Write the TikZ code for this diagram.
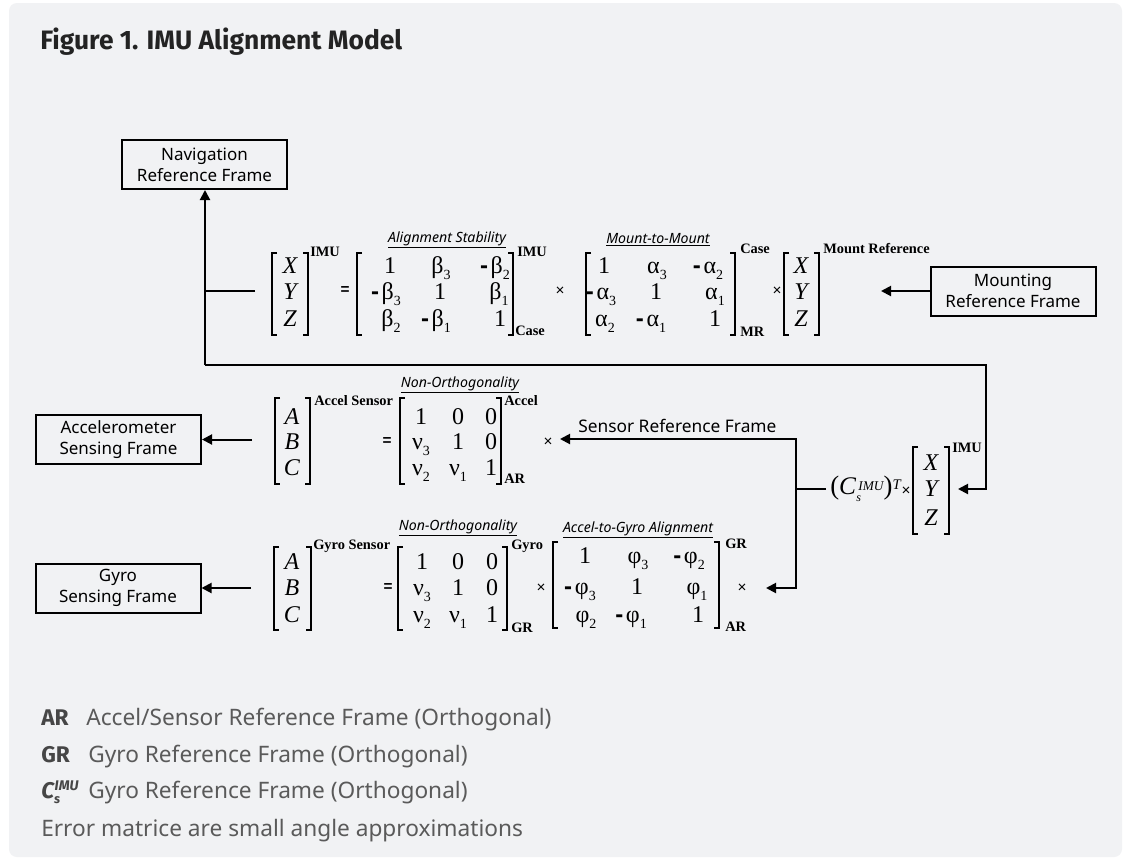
\documentclass[tikz,border=0pt]{standalone}
\usepackage{fontspec}
\usepackage{graphicx}
\setmainfont{Noto Sans}
\newfontfamily\tms{Liberation Serif}
\newfontfamily\ttl{Fira Sans}
\newfontfamily\lsans{Liberation Sans}
\usetikzlibrary{arrows.meta}
\definecolor{panel}{HTML}{F1F2F4}
\definecolor{legtxt}{HTML}{5A5A5A}
\definecolor{legbold}{HTML}{464646}
\definecolor{ttlcol}{HTML}{232323}
\newcommand{\sbs}[1]{\raisebox{-4.5pt}{\fontsize{10.5}{10.5}\selectfont #1}}
\newcommand{\mneg}{{\lsans\bfseries -}\kern2pt}
\newcommand{\Lbr}[3]{\draw[brk] (#1+5,#2) -- (#1,#2) -- (#1,#3) -- (#1+5,#3);}
\newcommand{\Rbr}[3]{\draw[brk] (#1-5,#2) -- (#1,#2) -- (#1,#3) -- (#1-5,#3);}
\begin{document}
\begin{tikzpicture}[x=0.75pt,y=-0.75pt,
  ent/.style={anchor=base, inner sep=0pt, font=\tms\fontsize{18}{18}\selectfont},
  vent/.style={anchor=base, inner sep=0pt, font=\tms\itshape\fontsize{18}{18}\selectfont},
  lab/.style={anchor=west, inner sep=0pt, font=\tms\bfseries\fontsize{10.8}{10.8}\selectfont},
  mtitle/.style={anchor=base, inner sep=0pt, font=\fontsize{10.6}{10.6}\selectfont\itshape},
  op/.style={inner sep=0pt, font=\lsans\fontsize{11.5}{11.5}\selectfont},
  eqop/.style={inner sep=0pt, font=\lsans\bfseries\fontsize{11.5}{11.5}\selectfont},
  box/.style={draw, line width=1.5pt, minimum width=123.75pt, minimum height=36.75pt, align=center, font=\fontsize{12.75}{15.75}\selectfont, inner sep=0pt},
  conn/.style={line width=1.5pt},
  arr/.style={conn, -{Triangle[length=7.5pt,width=7.5pt]}},
  brk/.style={line width=1.5pt},
  leg/.style={anchor=base west, inner sep=0pt, text=legtxt, font=\fontsize{17}{17}\selectfont},
  legb/.style={anchor=base west, inner sep=0pt, text=legbold, font=\ttl\bfseries\fontsize{17}{17}\selectfont}
]
\useasboundingbox (0,0) rectangle (1129,858);
\fill[white] (0,0) rectangle (1129,858);
\fill[panel, rounded corners=6pt] (9,3) rectangle (1122,857);

% title
\node[anchor=base west, inner sep=0pt, text=ttlcol] (title) at (40,49.5)
  {\resizebox{271.5pt}{16.2pt}{\ttl\bfseries Figure 1. IMU Alignment Model}};

% boxes
\node[box] (nav) at (204.5,164.5) {Navigation\\Reference Frame};
\node[box] (mnt) at (1013,291) {Mounting\\Reference Frame};
\node[box] (acc) at (118.5,439.5) {Accelerometer\\Sensing Frame};
\node[box] (gyr) at (118,588) {Gyro\\Sensing Frame};

% ---------- top equation ----------
\Lbr{272}{253}{335}\Rbr{308}{253}{335}
\node[vent] (tx) at (290,273) {X};
\node[vent] (ty) at (290,299) {Y};
\node[vent] (tz) at (290,326) {Z};
\node[lab] (tsup) at (310,252) {IMU};
\node[eqop] (teq) at (345,291) {=};
\Lbr{357}{253}{335}\Rbr{513}{253}{335}
\node[mtitle] (tb) at (447,242) {\underline{Alignment Stability}};
\node[ent] (b11) at (390,273) {1};
\node[ent] (b12) at (441,273) {β\sbs{3}};
\node[ent] (b13) at (495,273) {\mneg β\sbs{2}};
\node[ent] (b21) at (386,299) {\mneg β\sbs{3}};
\node[ent] (b22) at (440,299) {1};
\node[ent] (b23) at (499,299) {β\sbs{1}};
\node[ent] (b31) at (391,326) {β\sbs{2}};
\node[ent] (b32) at (436,326) {\mneg β\sbs{1}};
\node[ent] (b33) at (500,326) {1};
\node[lab] (bsup) at (517,252) {IMU};
\node[lab] (bsub) at (515,331) {Case};
\node[op] (tm1) at (560,291) {×};
\Lbr{586}{253}{335}\Rbr{735}{253}{335}
\node[mtitle] (ta) at (658,243) {\underline{Mount-to-Mount}};
\node[ent] (a11) at (604,273) {1};
\node[ent] (a12) at (657,273) {α\sbs{3}};
\node[ent] (a13) at (708,273) {\mneg α\sbs{2}};
\node[ent] (a21) at (601,299) {\mneg α\sbs{3}};
\node[ent] (a22) at (656,299) {1};
\node[ent] (a23) at (715,299) {α\sbs{1}};
\node[ent] (a31) at (605,326) {α\sbs{2}};
\node[ent] (a32) at (651,326) {\mneg α\sbs{1}};
\node[ent] (a33) at (715,326) {1};
\node[lab] (asup) at (740,249) {Case};
\node[lab] (asub) at (740,332) {MR};
\node[op] (tm2) at (777,291) {×};
\Lbr{784}{253}{335}\Rbr{819}{253}{335}
\node[vent] (mx) at (801,273) {X};
\node[vent] (my) at (801,299) {Y};
\node[vent] (mz) at (801,326) {Z};
\node[lab] (msup) at (823,249) {Mount Reference};
\coordinate (mtip) at (881,291);

% ---------- accel equation ----------
\Lbr{275}{398}{484}\Rbr{310}{398}{484}
\node[vent] (aa) at (292,424.5) {A};
\node[vent] (ab) at (292,449.5) {B};
\node[vent] (ac) at (292,475.5) {C};
\node[lab] (asen) at (314,401) {Accel Sensor};
\node[eqop] (aeq) at (387,442) {=};
\Lbr{400}{398}{484}\Rbr{501}{398}{484}
\node[mtitle] (an) at (460,387) {\underline{Non-Orthogonality}};
\node[ent] (n11) at (421,424.5) {1};
\node[ent] (n12) at (458,424.5) {0};
\node[ent] (n13) at (491,424.5) {0};
\node[ent] (n21) at (421,449.5) {ν\sbs{3}};
\node[ent] (n22) at (458,449.5) {1};
\node[ent] (n23) at (491,449.5) {0};
\node[ent] (n31) at (421,475.5) {ν\sbs{2}};
\node[ent] (n32) at (458,475.5) {ν\sbs{1}};
\node[ent] (n33) at (491,475.5) {1};
\node[lab] (nsup) at (504,401) {Accel};
\node[lab] (nsub) at (504,479) {AR};
\node[op] (am) at (548,442) {×};
\coordinate (atip) at (560,439);

% ---------- gyro equation ----------
\Lbr{274}{547}{630}\Rbr{311}{547}{630}
\node[vent] (ga) at (292,569.5) {A};
\node[vent] (gb) at (292,595.5) {B};
\node[vent] (gc) at (292,622.5) {C};
\node[lab] (gsen) at (313,546) {Gyro Sensor};
\node[eqop] (geq) at (388,588) {=};
\Lbr{398}{547}{630}\Rbr{507}{547}{630}
\node[mtitle] (gn) at (458,530) {\underline{Non-Orthogonality}};
\node[ent] (g11) at (422,569.5) {1};
\node[ent] (g12) at (458,569.5) {0};
\node[ent] (g13) at (492,569.5) {0};
\node[ent] (g21) at (422,595.5) {ν\sbs{3}};
\node[ent] (g22) at (458,595.5) {1};
\node[ent] (g23) at (492,595.5) {0};
\node[ent] (g31) at (422,622.5) {ν\sbs{2}};
\node[ent] (g32) at (458,622.5) {ν\sbs{1}};
\node[ent] (g33) at (492,622.5) {1};
\node[lab] (gsup) at (511,546) {Gyro};
\node[lab] (gsub) at (511,628) {GR};
\node[op] (gm1) at (541,588) {×};
\Lbr{553}{542}{628}\Rbr{719}{542}{628}
\node[mtitle] (gp) at (638,532) {\underline{Accel-to-Gyro Alignment}};
\node[ent] (p11) at (585,563) {1};
\node[ent] (p12) at (638,563) {φ\sbs{3}};
\node[ent] (p13) at (689,563) {\mneg φ\sbs{2}};
\node[ent] (p21) at (580,594) {\mneg φ\sbs{3}};
\node[ent] (p22) at (637,594) {1};
\node[ent] (p23) at (697,594) {φ\sbs{1}};
\node[ent] (p31) at (586,622) {φ\sbs{2}};
\node[ent] (p32) at (631,622) {\mneg φ\sbs{1}};
\node[ent] (p33) at (698,622) {1};
\node[lab] (psup) at (725,544) {GR};
\node[lab] (psub) at (725,627) {AR};
\node[op] (gm2) at (742,588) {×};
\coordinate (gtip) at (766,588);

% ---------- right expression ----------
\node[anchor=west, inner sep=0pt, font=\tms] (cexp) at (830,489)
  {{\fontsize{20}{20}\selectfont(}{\itshape\fontsize{19}{19}\selectfont C}\kern0.3pt\rlap{\raisebox{-5pt}{\fontsize{9}{9}\selectfont\itshape s}}\kern1.5pt\raisebox{3.5pt}{\fontsize{10}{10}\selectfont\itshape IMU}{\fontsize{20}{20}\selectfont)}\raisebox{4pt}{\fontsize{11}{11}\selectfont\itshape T}};
\node[op] (cm) at (906,491) {×};
\Lbr{913}{447}{534}\Rbr{949}{447}{534}
\node[vent] (rx) at (931,470.5) {X};
\node[vent] (ry) at (931,496.5) {Y};
\node[vent] (rz) at (931,525) {Z};
\node[lab] (rsup) at (952,448) {IMU};
\coordinate (rtip) at (958,489);

% ---------- connectors ----------
\coordinate (j1) at (205,365);
\coordinate (j2) at (986,365);
\coordinate (j3) at (986,489);
\coordinate (s0) at (205,291);
\coordinate (s1) at (255,291);
\draw[arr] (j1) -- (j1 |- nav.south);
\draw[conn] (s1) -- (s0);
\draw[arr] (j1) -- (j2) -- (j3) -- (rtip);
\draw[arr] (mnt.west) -- (mtip);

\coordinate (k1) at (826,489);
\coordinate (k0) at (796,489);
\coordinate (k2) at (796,439);
\coordinate (k3) at (796,588);
\draw[conn] (k1) -- (k0);
\draw[arr] (k0) -- (k2) -- (atip);
\draw[arr] (k0) -- (k3) -- (gtip);
\node[anchor=base west, inner sep=0pt, font=\fontsize{13}{13}\selectfont] (srf) at (578,432) {Sensor Reference Frame};

\coordinate (aa0) at (252,439.5);
\coordinate (ga0) at (251,588);
\draw[arr] (aa0) -- (acc.east);
\draw[arr] (ga0) -- (gyr.east);

% ---------- legend ----------
\node[legb] (lar) at (41,725) {AR};
\node[leg] (lart) at (86,725) {Accel/Sensor Reference Frame (Orthogonal)};
\node[legb] (lgr) at (41,762) {GR};
\node[leg] (lgrt) at (88,762) {Gyro Reference Frame (Orthogonal)};
\node[legb] (lc) at (41,798) {\itshape C\rlap{\raisebox{-4pt}{\fontsize{9.5}{9.5}\selectfont s}}\kern0.5pt\raisebox{6pt}{\fontsize{10.5}{10.5}\selectfont IMU}};
\node[leg] (lct) at (88,798) {Gyro Reference Frame (Orthogonal)};
\node[leg] (lerr) at (41,836) {Error matrice are small angle approximations};
\end{tikzpicture}
\end{document}
